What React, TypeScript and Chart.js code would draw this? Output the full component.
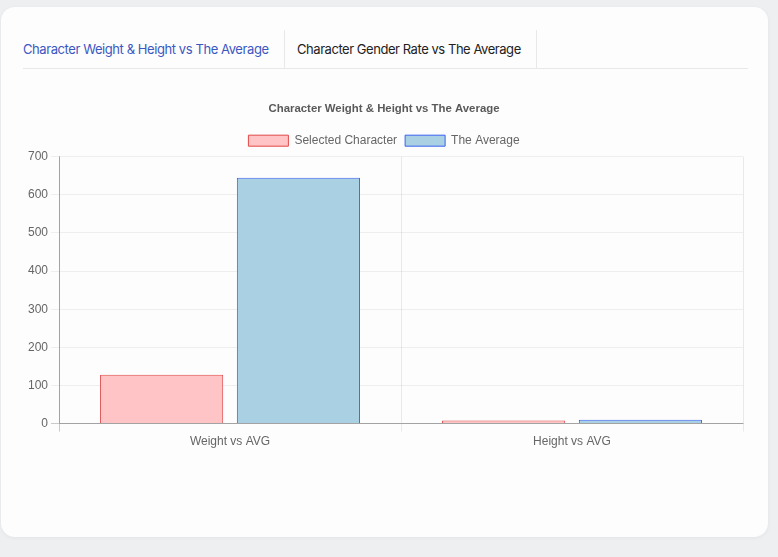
import React, { useEffect, useRef } from "react";
import { Chart, registerables } from "chart.js";

Chart.register(...registerables);

const chartTitle = "Character Weight & Height vs The Average";
const categories = ["Weight vs AVG", "Height vs AVG"];
const seriesNames = ["Selected Character", "The Average"];
const selectedValues = [128, 8];
const averageValues = [645, 10];
const tabLabels = ["Character Weight & Height vs The Average", "Character Gender Rate vs The Average"];

export default function App() {
  const ref = useRef<HTMLCanvasElement | null>(null);

  useEffect(() => {
    if (!ref.current) return;
    Chart.defaults.font.family = "'Liberation Sans', Arial, Helvetica, sans-serif";
    Chart.defaults.color = "#666";
    const chart = new Chart(ref.current, {
      type: "bar",
      data: {
        labels: categories,
        datasets: [
          {
            label: seriesNames[0],
            data: selectedValues,
            backgroundColor: "#ffc4c6",
            borderColor: "#e04848",
            borderWidth: 1,
          },
          {
            label: seriesNames[1],
            data: averageValues,
            backgroundColor: "#a9d1e3",
            borderColor: "#3a5ff0",
            borderWidth: 1,
          },
        ],
      },
      options: {
        animation: false,
        responsive: false,
        maintainAspectRatio: false,
        layout: { padding: { left: 2, right: 5, top: 0, bottom: 0 } },
        plugins: {
          title: {
            display: true,
            text: chartTitle,
            color: "#5a5a5a",
            font: { size: 11.4, weight: "bold" },
            padding: { top: 13, bottom: 11 },
          },
          legend: {
            labels: { boxWidth: 40, boxHeight: 11, font: { size: 12 }, color: "#666", padding: 8 },
          },
          tooltip: { enabled: false },
        },
        scales: {
          x: {
            grid: {
              color: (ctx: any) => (ctx.index === 0 ? "rgba(0,0,0,0.2)" : "rgba(0,0,0,0.08)"),
              tickLength: 8,
            },
            border: { color: "rgba(0,0,0,0.2)" },
            ticks: { color: "#666", font: { size: 12 } },
          },
          y: {
            min: 0,
            max: 700,
            ticks: { stepSize: 100, color: "#666", font: { size: 12 } },
            grid: {
              color: (ctx: any) => (ctx.tick && ctx.tick.value === 0 ? "rgba(0,0,0,0.2)" : "rgba(0,0,0,0.06)"),
              tickLength: 8,
            },
            border: { color: "rgba(0,0,0,0.2)" },
          },
        },
      },
    });
    return () => chart.destroy();
  }, []);

  return (
    <div style={{ position: "fixed", inset: 0, background: "#eeeff1", fontFamily: "Inter, 'Noto Sans', sans-serif" }}>
      <div
        style={{
          position: "absolute",
          left: 1,
          top: 7,
          width: 767,
          height: 530,
          borderRadius: 14,
          background: "#fdfdfd",
          boxShadow: "0 1px 4px rgba(0,0,0,0.05)",
        }}
      />
      <div
        style={{
          position: "absolute",
          left: 23,
          top: 40,
          fontSize: 13,
          letterSpacing: -0.42,
          color: "#3b58c2",
          lineHeight: "18px",
          whiteSpace: "nowrap",
        }}
      >
        {tabLabels[0]}
      </div>
      <div
        style={{
          position: "absolute",
          left: 297,
          top: 40,
          fontSize: 13,
          letterSpacing: -0.45,
          color: "#222",
          lineHeight: "18px",
          whiteSpace: "nowrap",
        }}
      >
        {tabLabels[1]}
      </div>
      <div style={{ position: "absolute", left: 284, top: 30, width: 1, height: 38, background: "#e8e8e8" }} />
      <div style={{ position: "absolute", left: 536, top: 30, width: 1, height: 38, background: "#e8e8e8" }} />
      <div style={{ position: "absolute", left: 23, top: 68, width: 725, height: 1, background: "#e8e8e8" }} />
      <canvas
        ref={ref}
        width={725}
        height={363}
        style={{ position: "absolute", left: 23, top: 89, width: 725, height: 363 }}
      />
    </div>
  );
}
